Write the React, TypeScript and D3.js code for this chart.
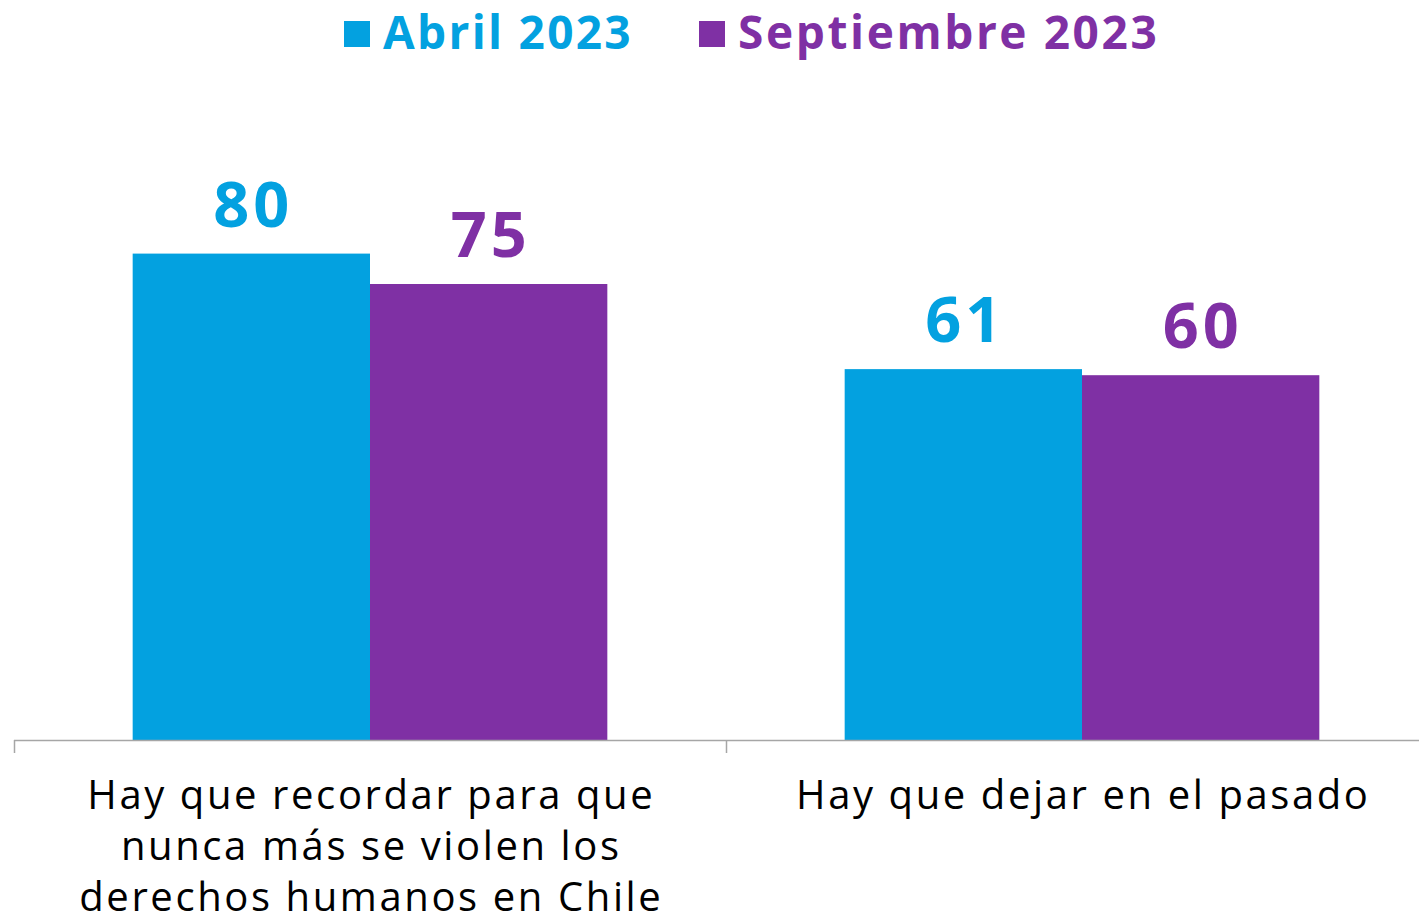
import React from 'react';
import * as d3 from 'd3';

// Datos
const categories = [
  'Hay que recordar para que nunca más se violen los derechos humanos en Chile',
  'Hay que dejar en el pasado',
];
const categoryLines = [
  ['Hay que recordar para que', 'nunca más se violen los', 'derechos humanos en Chile'],
  ['Hay que dejar en el pasado'],
];
const seriesNames = ['Abril 2023', 'Septiembre 2023'];
const abril2023 = [80, 61];
const septiembre2023 = [75, 60];
const seriesColors = ['#03A1E0', '#7F30A4'];

const FONT = "'Open Sans', 'DejaVu Sans', sans-serif";

const App = () => {
  const width = 1419;
  const height = 916;
  const baseline = 740;

  const x0 = d3.scaleBand<string>().domain(categories).range([14, 1438]).padding(0);
  const x1 = d3
    .scaleBand<string>()
    .domain(seriesNames)
    .range([0, x0.bandwidth()])
    .paddingInner(0)
    .paddingOuter(0.5);
  const y = d3.scaleLinear().domain([0, 100]).range([baseline, 132]);

  const series = [abril2023, septiembre2023];
  const valueSpacing = 4;
  const labelSpacing = 2.6;

  return (
    <svg
      width={width}
      height={height}
      style={{ position: 'absolute', left: 0, top: 0, background: '#fff' }}
      fontFamily={FONT}
    >
      {/* Leyenda */}
      <g>
        <rect x={344} y={21} width={26} height={26} fill={seriesColors[0]} />
        <text x={383} y={49} fontSize={46} fontWeight={700} letterSpacing={2.3} fill={seriesColors[0]}>
          {seriesNames[0]}
        </text>
        <rect x={699} y={21} width={26} height={26} fill={seriesColors[1]} />
        <text x={738} y={49} fontSize={46} fontWeight={700} letterSpacing={2.6} fill={seriesColors[1]}>
          {seriesNames[1]}
        </text>
      </g>

      {/* Barras */}
      {categories.map((cat, ci) => (
        <g key={cat} transform={`translate(${x0(cat)},0)`}>
          {seriesNames.map((s, si) => {
            const v = series[si][ci];
            const bx = x1(s) as number;
            return (
              <g key={s}>
                <rect
                  x={bx}
                  y={y(v)}
                  width={x1.bandwidth()}
                  height={baseline - y(v)}
                  fill={seriesColors[si]}
                />
                <text
                  x={bx + x1.bandwidth() / 2 + valueSpacing / 2}
                  y={y(v) - 27}
                  textAnchor="middle"
                  fontSize={63}
                  fontWeight={700}
                  letterSpacing={valueSpacing}
                  fill={seriesColors[si]}
                >
                  {v}
                </text>
              </g>
            );
          })}
        </g>
      ))}

      {/* Eje X */}
      <g>
        <line x1={14} x2={1419} y1={baseline + 0.5} y2={baseline + 0.5} stroke="#A6A6A6" strokeWidth={1.5} />
        {[14, 726].map((t) => (
          <line key={t} x1={t + 0.5} x2={t + 0.5} y1={baseline} y2={753} stroke="#A6A6A6" strokeWidth={1.5} />
        ))}
        {categories.map((cat, ci) => {
          const cx = (x0(cat) as number) + x0.bandwidth() / 2 + labelSpacing / 2;
          return (
            <text
              key={cat}
              textAnchor="middle"
              fontSize={40}
              letterSpacing={labelSpacing}
              fill="#000"
            >
              {categoryLines[ci].map((line, li) => (
                <tspan key={li} x={cx} y={809 + li * 51}>
                  {line}
                </tspan>
              ))}
            </text>
          );
        })}
      </g>
    </svg>
  );
};

export default App;
